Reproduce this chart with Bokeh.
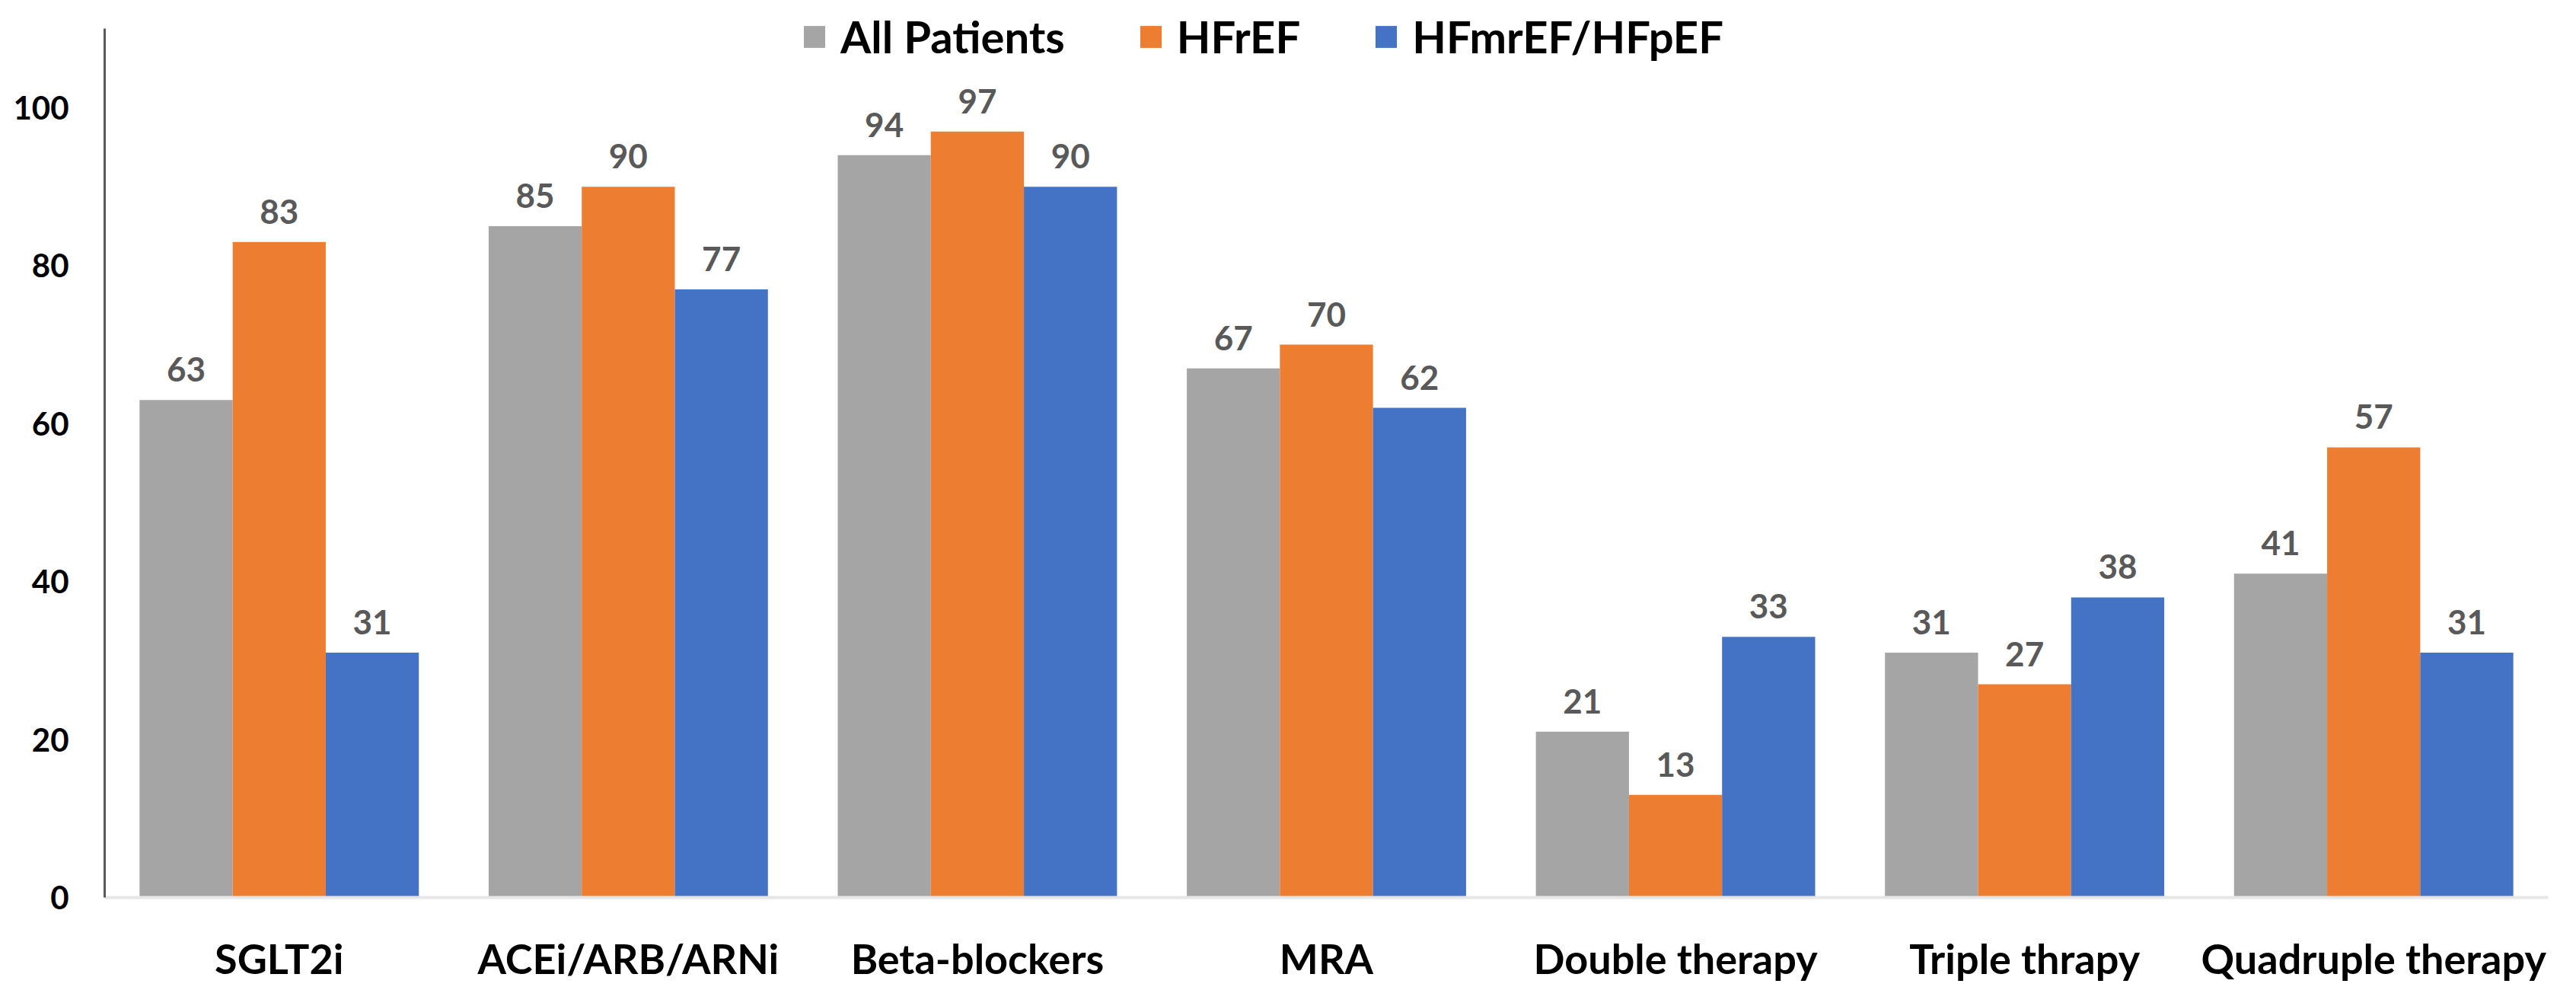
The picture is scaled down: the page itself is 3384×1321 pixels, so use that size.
from bokeh.plotting import figure
from bokeh.models import ColumnDataSource, FactorRange, Range1d, Legend, LegendItem, LabelSet
from bokeh.core.properties import value
from bokeh.transform import dodge
from bokeh.embed import file_html
from bokeh.resources import INLINE

categories = ["SGLT2i", "ACEi/ARB/ARNi", "Beta-blockers", "MRA",
              "Double therapy", "Triple thrapy", "Quadruple therapy"]
all_patients = [63, 85, 94, 67, 21, 31, 41]
hfref = [83, 90, 97, 70, 13, 27, 57]
hfmref_hfpef = [31, 77, 90, 62, 33, 38, 31]
series_names = ["All Patients", "HFrEF", "HFmrEF/HFpEF"]
y_ticks = [0, 20, 40, 60, 80, 100]

FONT = "Lato"
colors = ["#A5A5A5", "#ED7D31", "#4472C4"]

src = ColumnDataSource(dict(
    cat=categories,
    a=all_patients, b=hfref, c=hfmref_hfpef,
    la=[str(v) for v in all_patients],
    lb=[str(v) for v in hfref],
    lc=[str(v) for v in hfmref_hfpef],
))

p = figure(x_range=FactorRange(*categories, range_padding=0),
           y_range=Range1d(0, 113.6),
           width=3368, height=1305,
           output_backend="svg", toolbar_location=None,
           min_border_left=137, min_border_right=21,
           min_border_top=0, min_border_bottom=127)

bw = 0.8 / 3
renderers = []
for i, (col, lab) in enumerate(zip(["a", "b", "c"], ["la", "lb", "lc"])):
    off = (i - 1) * bw
    r = p.vbar(x=dodge("cat", off, range=p.x_range), top=col, width=bw,
               source=src, color=colors[i], line_color=None)
    renderers.append(r)
    ls = LabelSet(x=dodge("cat", off, range=p.x_range), y=col, text=lab,
                  source=src, text_align="center", text_baseline="alphabetic",
                  y_offset=24, text_font=value(FONT), text_font_style="bold",
                  text_font_size="44px", text_color="#595959")
    p.add_layout(ls)

legend = Legend(items=[LegendItem(label=n, renderers=[r]) for n, r in zip(series_names, renderers)],
                orientation="horizontal", location=(915, 1096),
                label_text_font=FONT, label_text_font_style="bold",
                label_text_font_size="58px", label_text_color="#000000",
                glyph_width=35, glyph_height=36, label_standoff=17, spacing=95,
                padding=0, margin=0, border_line_color=None,
                background_fill_alpha=0)
p.add_layout(legend)

p.xgrid.grid_line_color = None
p.ygrid.grid_line_color = None
p.outline_line_color = None

p.yaxis.ticker = y_ticks
p.yaxis.bounds = (0, 110)
p.yaxis.major_tick_out = 0
p.yaxis.major_tick_in = 0
p.yaxis.minor_tick_out = 0
p.yaxis.minor_tick_in = 0
p.yaxis.axis_line_color = "#595959"
p.yaxis.axis_line_width = 3
p.yaxis.major_label_standoff = 47
p.yaxis.major_label_text_font = FONT
p.yaxis.major_label_text_font_style = "bold"
p.yaxis.major_label_text_font_size = "42px"
p.yaxis.major_label_text_color = "#000000"

p.xaxis.major_tick_out = 0
p.xaxis.major_tick_in = 0
p.xaxis.axis_line_color = "#E6E6E6"
p.xaxis.axis_line_width = 4
p.xaxis.major_label_standoff = 47
p.xaxis.major_label_text_font = FONT
p.xaxis.major_label_text_font_style = "bold"
p.xaxis.major_label_text_font_size = "54px"
p.xaxis.major_label_text_color = "#000000"

open("out.html", "w").write(file_html(p, INLINE))
